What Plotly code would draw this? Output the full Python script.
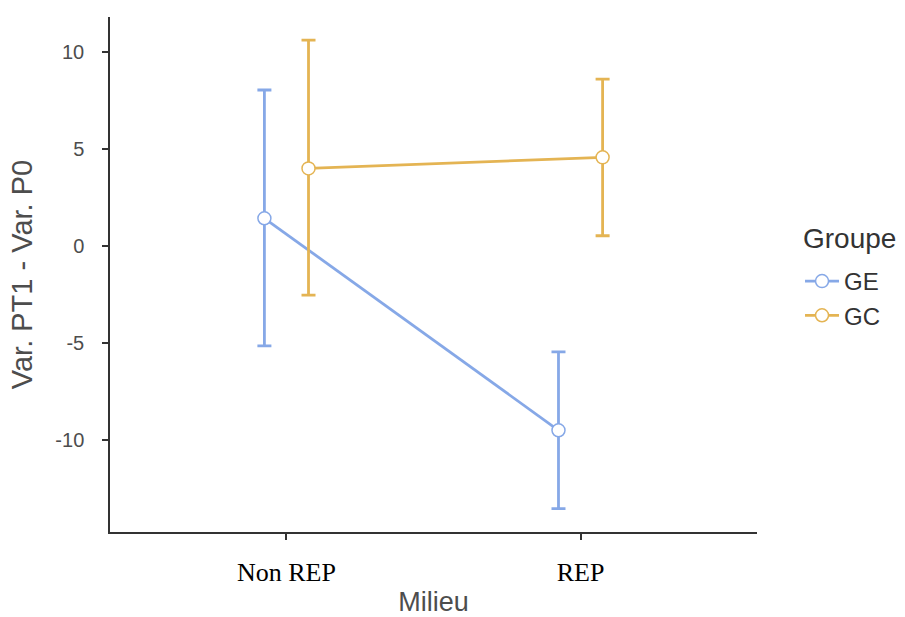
import plotly.graph_objects as go

categories = ["Non REP", "REP"]
groups = ["GE", "GC"]
ge_mean = [1.42, -9.50]
ge_lower = [-5.15, -13.54]
ge_upper = [8.03, -5.46]
gc_mean = [3.99, 4.56]
gc_lower = [-2.54, 0.52]
gc_upper = [10.60, 8.59]
y_ticks = [-10, -5, 0, 5, 10]

colors = {"GE": "#86A8E7", "GC": "#E4B453"}
dodge = {"GE": -0.075, "GC": 0.075}
series = {
    "GE": (ge_mean, ge_lower, ge_upper),
    "GC": (gc_mean, gc_lower, gc_upper),
}

fig = go.Figure()
for g in groups:
    mean, lo, hi = series[g]
    xs = [i + dodge[g] for i in range(len(categories))]
    fig.add_trace(go.Scatter(
        x=xs, y=mean, name=g, mode="lines+markers",
        line=dict(color=colors[g], width=2.8),
        marker=dict(size=13, color="white", line=dict(color=colors[g], width=1.5)),
        error_y=dict(type="data", symmetric=False,
                     array=[h - m for h, m in zip(hi, mean)],
                     arrayminus=[m - l for m, l in zip(mean, lo)],
                     color=colors[g], thickness=2.8, width=7),
    ))

fig.update_layout(
    width=905, height=617,
    margin=dict(l=110, r=148, t=17, b=85, autoexpand=False),
    paper_bgcolor="white", plot_bgcolor="white",
    font=dict(family="Liberation Sans, Arial, sans-serif", color="#333333"),
    legend=dict(
        font=dict(size=24, color="#333333"),
        xref="container", yref="container",
        x=0.884, y=1 - 259 / 617, xanchor="left", yanchor="top",
        tracegroupgap=0, itemwidth=34,
    ),
    annotations=[dict(
        text="Groupe", xref="paper", yref="paper",
        x=(801 - 110) / 647, y=(532 - 238) / 515,
        xanchor="left", yanchor="middle", showarrow=False,
        font=dict(size=28, color="#333333"),
    )],
)
fig.update_xaxes(
    range=[-0.6, 1.6], automargin=False,
    tickmode="array", tickvals=list(range(len(categories))), ticktext=categories,
    tickfont=dict(family="Liberation Serif, Times New Roman, serif", size=26, color="black"),
    ticks="outside", ticklen=6, tickwidth=1.5, tickcolor="#333333",
    showline=True, linecolor="#333333", linewidth=1.5,
    showgrid=False, zeroline=False, ticklabelstandoff=10,
    title=dict(text="Milieu", font=dict(size=27, color="#4D4D4D"), standoff=10),
)
fig.update_yaxes(
    range=[-14.74, 11.79], automargin=False,
    tickmode="array", tickvals=y_ticks, ticktext=[str(v) for v in y_ticks],
    tickfont=dict(size=20, color="#4D4D4D"),
    ticks="outside", ticklen=6, tickwidth=1.5, tickcolor="#333333",
    showline=True, linecolor="#333333", linewidth=1.5,
    showgrid=False, zeroline=False, ticklabelstandoff=14,
    title=dict(text="Var. PT1 - Var. P0", font=dict(size=29, color="#4D4D4D"), standoff=14),
)

fig.write_html("out.html", config={"displayModeBar": False},
               post_script="document.body.style.margin='0';")
